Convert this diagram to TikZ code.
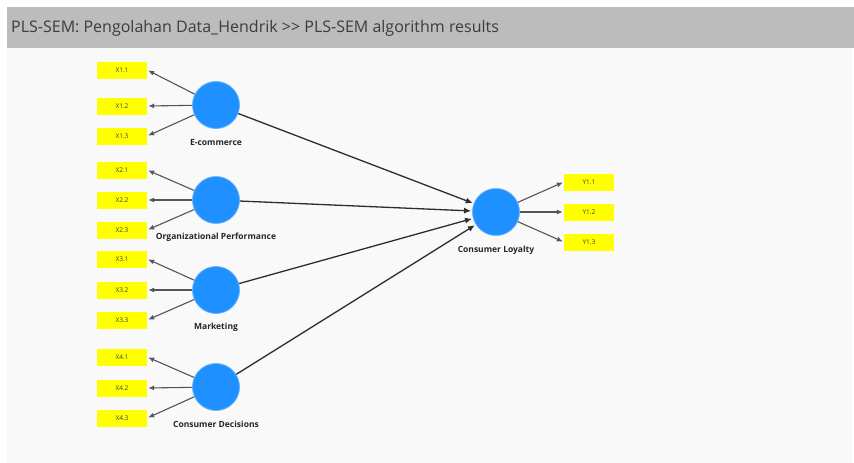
\documentclass[tikz,border=0pt]{standalone}
\usepackage{fontspec}
\setmainfont{Open Sans}
\usetikzlibrary{arrows.meta}
\definecolor{barGrey}{RGB}{188,188,188}
\definecolor{bgGrey}{RGB}{249,249,249}
\definecolor{titleText}{RGB}{60,60,60}
\definecolor{lvBlue}{RGB}{30,144,255}
\definecolor{lvEdge}{RGB}{100,180,255}
\definecolor{indYellow}{RGB}{255,255,0}
\definecolor{lineDark}{RGB}{45,45,45}
\definecolor{lineInd}{RGB}{85,85,85}
\tikzset{
  lv/.style={circle, fill=lvBlue, draw=lvEdge, line width=0.8pt, minimum size=47pt, inner sep=0pt},
  ind/.style={fill=indYellow, minimum width=50pt, minimum height=17pt, inner sep=0pt, font=\fontsize{6.5}{7}\selectfont, text=black!75},
  lvlabel/.style={font=\bfseries\fontsize{8.5}{9}\selectfont, text=black!85},
  load/.style={draw=lineInd, line width=1.1pt, -{Latex[length=6pt,width=5pt]}, shorten >=1pt},
  path/.style={draw=lineDark, line width=1.3pt, -{Latex[length=7pt,width=6pt]}, shorten >=1pt}
}
\begin{document}
\begin{tikzpicture}[x=1pt,y=-1pt]
\useasboundingbox (0,0) rectangle (854,463);
\fill[white] (0,0) rectangle (854,463);
\fill[bgGrey] (7,48) rectangle (852,463);
\fill[barGrey] (7,7) rectangle (854,48);
\node[anchor=west, text=titleText, font=\fontsize{16}{18}\selectfont, inner sep=0pt] (title) at (11,28) {PLS-SEM: Pengolahan Data\_Hendrik {>}{>} PLS-SEM algorithm results};

% latent variables
\node[lv] (ec) at (216,105) {};
\node[lv] (op) at (216,200) {};
\node[lv] (mk) at (216,290) {};
\node[lv] (cd) at (216,387) {};
\node[lv] (cl) at (496,212) {};

\node[lvlabel] (ecl) at (216,143) {E-commerce};
\node[lvlabel] (opl) at (216,237) {Organizational Performance};
\node[lvlabel] (mkl) at (216,327) {Marketing};
\node[lvlabel] (cdl) at (216,424) {Consumer Decisions};
\node[lvlabel] (cll) at (496,250) {Consumer Loyalty};

% indicators
\node[ind] (x11) at (122,70) {X1.1};
\node[ind] (x12) at (122,106) {X1.2};
\node[ind] (x13) at (122,136) {X1.3};
\node[ind] (x21) at (122,170) {X2.1};
\node[ind] (x22) at (122,200) {X2.2};
\node[ind] (x23) at (122,230) {X2.3};
\node[ind] (x31) at (122,259) {X3.1};
\node[ind] (x32) at (122,290) {X3.2};
\node[ind] (x33) at (122,320) {X3.3};
\node[ind] (x41) at (122,357) {X4.1};
\node[ind] (x42) at (122,388) {X4.2};
\node[ind] (x43) at (122,418) {X4.3};
\node[ind] (y11) at (589,182) {Y1.1};
\node[ind] (y12) at (589,212) {Y1.2};
\node[ind] (y13) at (589,242) {Y1.3};

% loadings
\foreach \c/\a/\b/\d in {ec/x11/x12/x13, op/x21/x22/x23, mk/x31/x32/x33, cd/x41/x42/x43}{
  \draw[load] (\c) -- (\a.east);
  \draw[load] (\c) -- (\b.east);
  \draw[load] (\c) -- (\d.east);
}
\draw[load] (cl) -- (y11.west);
\draw[load] (cl) -- (y12.west);
\draw[load] (cl) -- (y13.west);

% structural paths
\draw[path] (ec) -- (cl);
\draw[path] (op) -- (cl);
\draw[path] (mk) -- (cl);
\draw[path] (cd) -- (cl);
\end{tikzpicture}
\end{document}
